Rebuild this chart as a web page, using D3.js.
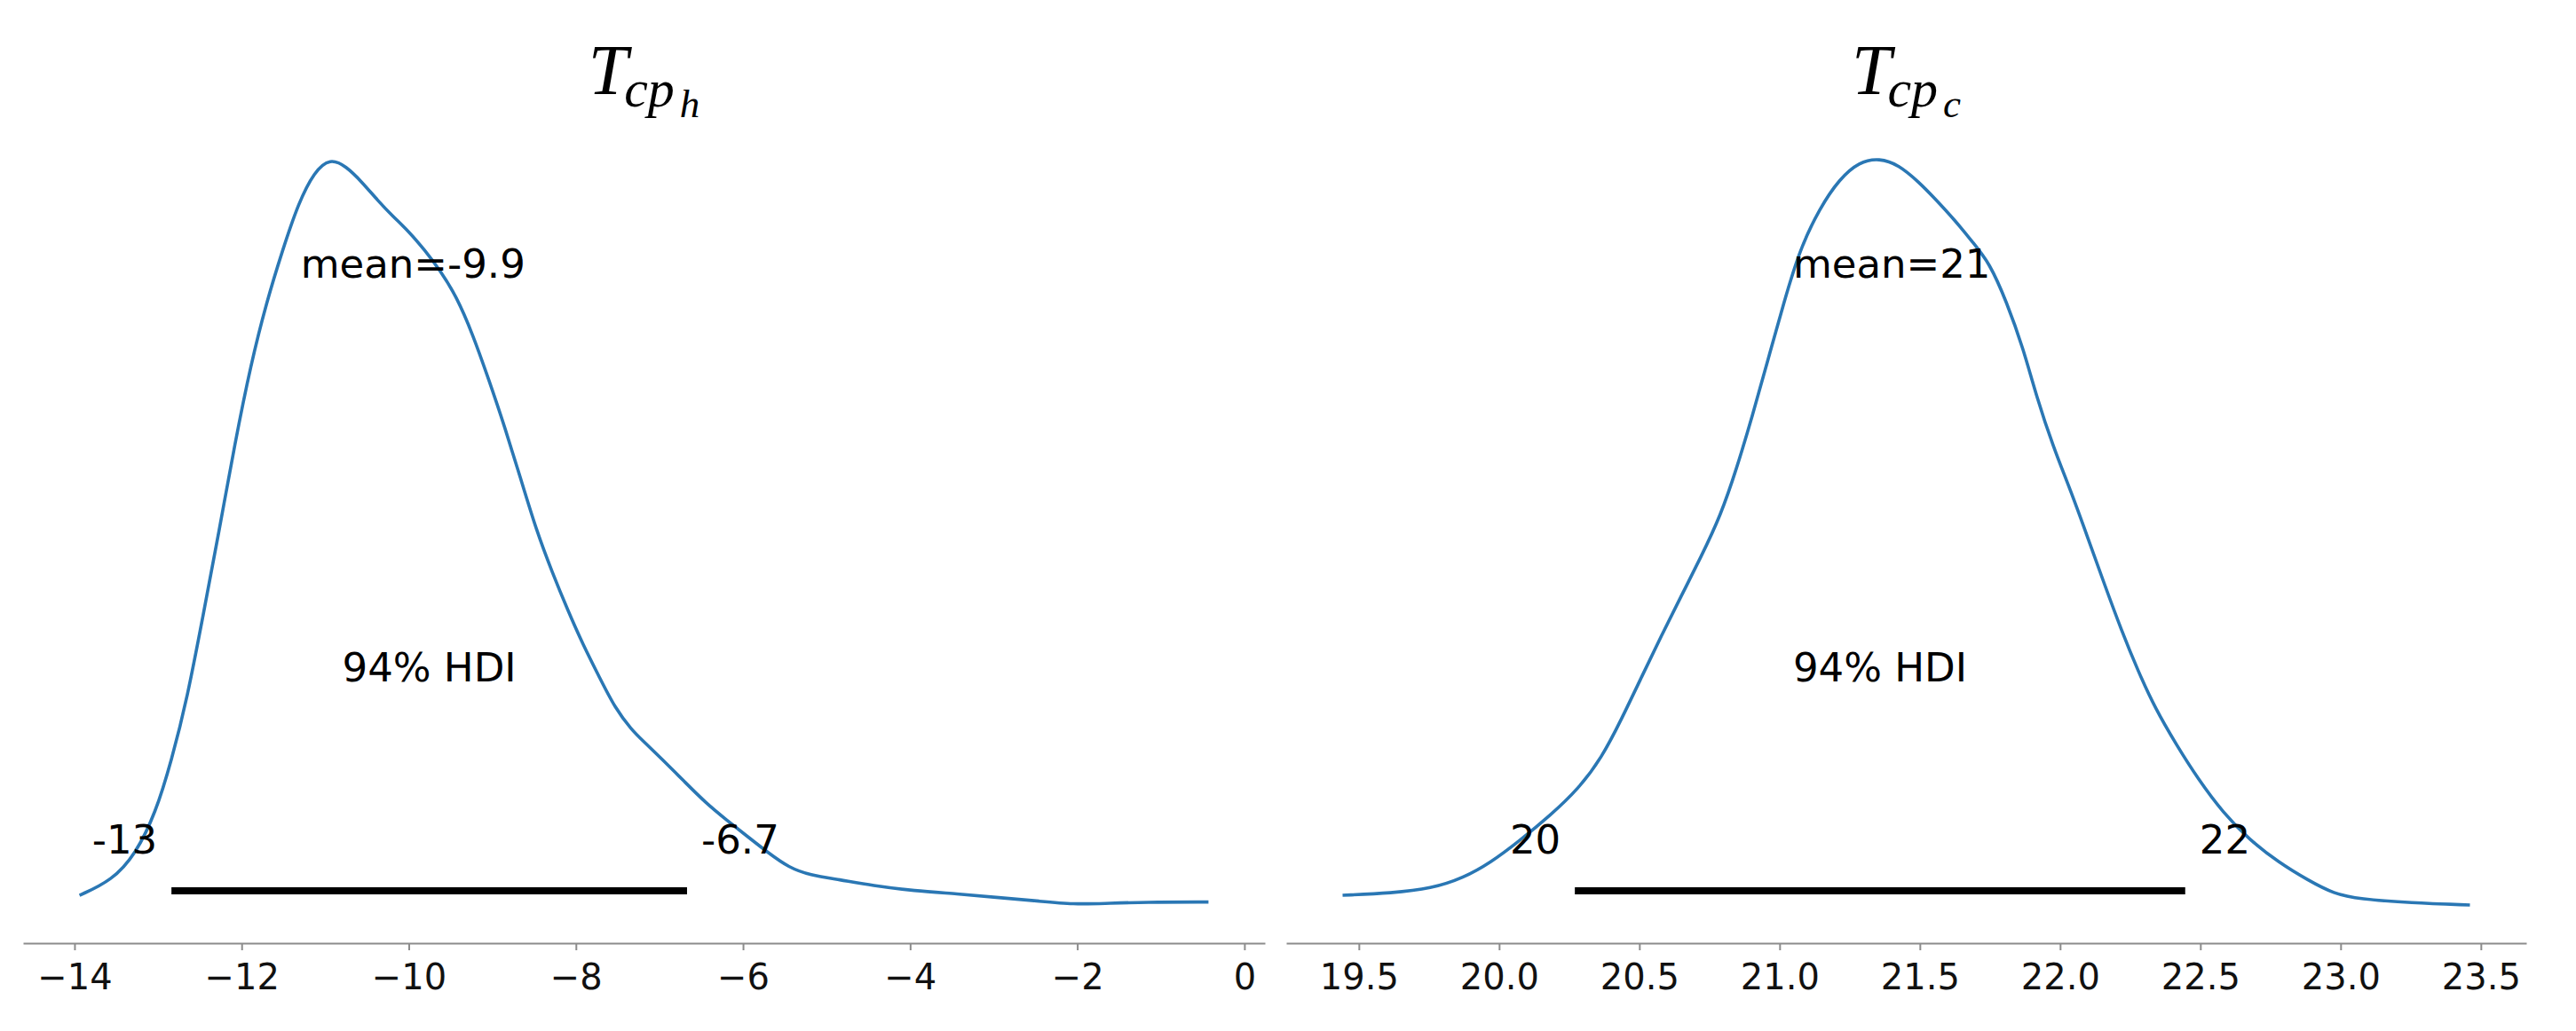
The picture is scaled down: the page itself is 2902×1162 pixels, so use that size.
<!DOCTYPE html>
<html>
<head>
<meta charset="utf-8">
<script src="https://cdn.jsdelivr.net/npm/d3@7"></script>
<style>
  body { margin: 0; background: #fff; }
  text { font-family: "DejaVu Sans", sans-serif; }
</style>
</head>
<body>
<div id="chart"></div>
<script>
// posterior of T_cp_h (relative density, peak = 1)
var hotX = [-13.94, -13.55, -13.27, -13.03, -12.84, -12.65, -12.46, -12.27, -12.08, -11.89,
            -11.70, -11.51, -11.32, -11.13, -10.94, -10.75, -10.56, -10.37, -10.19, -10.00,
            -9.81, -9.62, -9.43, -9.24, -9.04, -8.85, -8.66, -8.47, -8.28, -8.10,
            -7.91, -7.72, -7.53, -7.33, -7.21, -6.96, -6.70, -6.45, -6.20, -5.95,
            -5.70, -5.45, -5.20, -4.85, -4.45, -3.95, -3.44, -2.94, -2.44, -2.04,
            -1.69, -1.19, -0.43];
var hotDensity = [0.014, 0.034, 0.069, 0.124, 0.194, 0.278, 0.389, 0.501, 0.619, 0.724,
                  0.808, 0.877, 0.940, 0.982, 1.000, 0.989, 0.968, 0.943, 0.922, 0.902,
                  0.877, 0.849, 0.815, 0.766, 0.703, 0.640, 0.571, 0.501, 0.445, 0.396,
                  0.348, 0.306, 0.264, 0.235, 0.222, 0.195, 0.166, 0.138, 0.115, 0.093,
                  0.071, 0.051, 0.041, 0.035, 0.027, 0.020, 0.016, 0.011, 0.006, 0.002,
                  0.003, 0.005, 0.005];

// posterior of T_cp_c
var coldX = [19.442, 19.618, 19.759, 19.872, 19.971, 20.070, 20.183, 20.282, 20.366, 20.437,
             20.508, 20.578, 20.649, 20.719, 20.790, 20.847, 20.903, 20.959, 21.016, 21.072,
             21.143, 21.213, 21.284, 21.355, 21.425, 21.496, 21.551, 21.627, 21.687, 21.748,
             21.809, 21.869, 21.915, 21.976, 22.036, 22.097, 22.157, 22.218, 22.279, 22.339,
             22.415, 22.491, 22.582, 22.673, 22.779, 22.885, 22.976, 23.067, 23.248, 23.461];
var coldDensity = [0.014, 0.017, 0.023, 0.037, 0.058, 0.086, 0.121, 0.156, 0.198, 0.250,
                   0.306, 0.361, 0.414, 0.466, 0.522, 0.585, 0.655, 0.731, 0.808, 0.878,
                   0.933, 0.972, 0.995, 1.000, 0.991, 0.968, 0.947, 0.916, 0.888, 0.860,
                   0.808, 0.745, 0.682, 0.613, 0.557, 0.494, 0.431, 0.369, 0.313, 0.264,
                   0.215, 0.170, 0.124, 0.089, 0.058, 0.034, 0.016, 0.009, 0.004, 0.001];

var hotTicks = [-14, -12, -10, -8, -6, -4, -2, 0];
var coldTicks = [19.5, 20.0, 20.5, 21.0, 21.5, 22.0, 22.5, 23.0, 23.5];

var hotHdi = [-12.84, -6.67], coldHdi = [20.27, 22.446];
var hotHdiLabels = ["-13", "-6.7"], coldHdiLabels = ["20", "22"];
var hotMean = -9.95, coldMean = 21.40;
var hotMeanLabel = "mean=-9.9", coldMeanLabel = "mean=21";
var hdiLabel = "94% HDI";

var W = 2902, H = 1162;
var svg = d3.select("#chart").append("svg")
    .attr("width", W)
    .attr("height", H);

var y = d3.scaleLinear().domain([-0.05, 1.05]).range([1063, 136]);

function drawPanel(xs, ds, ticks, fmt, hdi, hdiLabels, mean, meanLabel, sub, left, right) {
    var lo = d3.min(xs), hi = d3.max(xs), pad = (hi - lo) * 0.05;
    var x = d3.scaleLinear().domain([lo - pad, hi + pad]).range([left, right]);
    var g = svg.append("g");

    // title T_{cp_sub}
    var title = g.append("text")
        .attr("x", (left + right) / 2)
        .attr("y", 106)
        .attr("text-anchor", "middle")
        .style("font-family", "'Liberation Serif', 'DejaVu Serif', serif")
        .style("font-style", "italic")
        .attr("fill", "#000");
    title.append("tspan").style("font-size", "80px").text("T");
    title.append("tspan").style("font-size", "60px").attr("dx", -4).attr("dy", 14).text("cp");
    title.append("tspan").style("font-size", "45px").attr("dx", 6).attr("dy", 12).text(sub);

    // x axis
    var axis = g.append("g")
        .attr("transform", "translate(0," + y(-0.05) + ")")
        .call(d3.axisBottom(x).tickValues(ticks).tickFormat(fmt)
            .tickSize(8).tickSizeOuter(0).tickPadding(16));
    axis.select(".domain").attr("stroke", "#8c8c8c").attr("stroke-width", 2);
    axis.selectAll(".tick line").attr("stroke", "#8c8c8c").attr("stroke-width", 2);
    axis.selectAll(".tick text")
        .style("font-family", "'DejaVu Sans', sans-serif")
        .style("font-size", "40px")
        .attr("fill", "#111");

    // density curve
    var pts = xs.map(function (d, i) { return [d, ds[i]]; });
    g.append("path")
        .datum(pts)
        .attr("fill", "none")
        .attr("stroke", "#2a77b4")
        .attr("stroke-width", 3.6)
        .attr("d", d3.line()
            .x(function (d) { return x(d[0]); })
            .y(function (d) { return y(d[1]); })
            .curve(d3.curveBasis));

    // hdi bar
    g.append("line")
        .attr("x1", x(hdi[0])).attr("x2", x(hdi[1]))
        .attr("y1", y(0.02)).attr("y2", y(0.02))
        .attr("stroke", "#000")
        .attr("stroke-width", 8);

    var fs = "45px";
    g.append("text")
        .attr("x", x(hdi[0])).attr("dx", -16)
        .attr("y", y(0.07))
        .attr("text-anchor", "end")
        .style("font-size", fs)
        .text(hdiLabels[0]);
    g.append("text")
        .attr("x", x(hdi[1])).attr("dx", 16)
        .attr("y", y(0.07))
        .attr("text-anchor", "start")
        .style("font-size", fs)
        .text(hdiLabels[1]);
    g.append("text")
        .attr("x", x((hdi[0] + hdi[1]) / 2))
        .attr("y", y(0.30))
        .attr("text-anchor", "middle")
        .style("font-size", fs)
        .text(hdiLabel);
    g.append("text")
        .attr("x", x(mean))
        .attr("y", y(0.84))
        .attr("text-anchor", "middle")
        .style("font-size", fs)
        .text(meanLabel);
}

drawPanel(hotX, hotDensity, hotTicks, d3.format("d"), hotHdi, hotHdiLabels,
          hotMean, hotMeanLabel, "h", 26, 1425);
drawPanel(coldX, coldDensity, coldTicks, d3.format(".1f"), coldHdi, coldHdiLabels,
          coldMean, coldMeanLabel, "c", 1449, 2846);
</script>
</body>
</html>
